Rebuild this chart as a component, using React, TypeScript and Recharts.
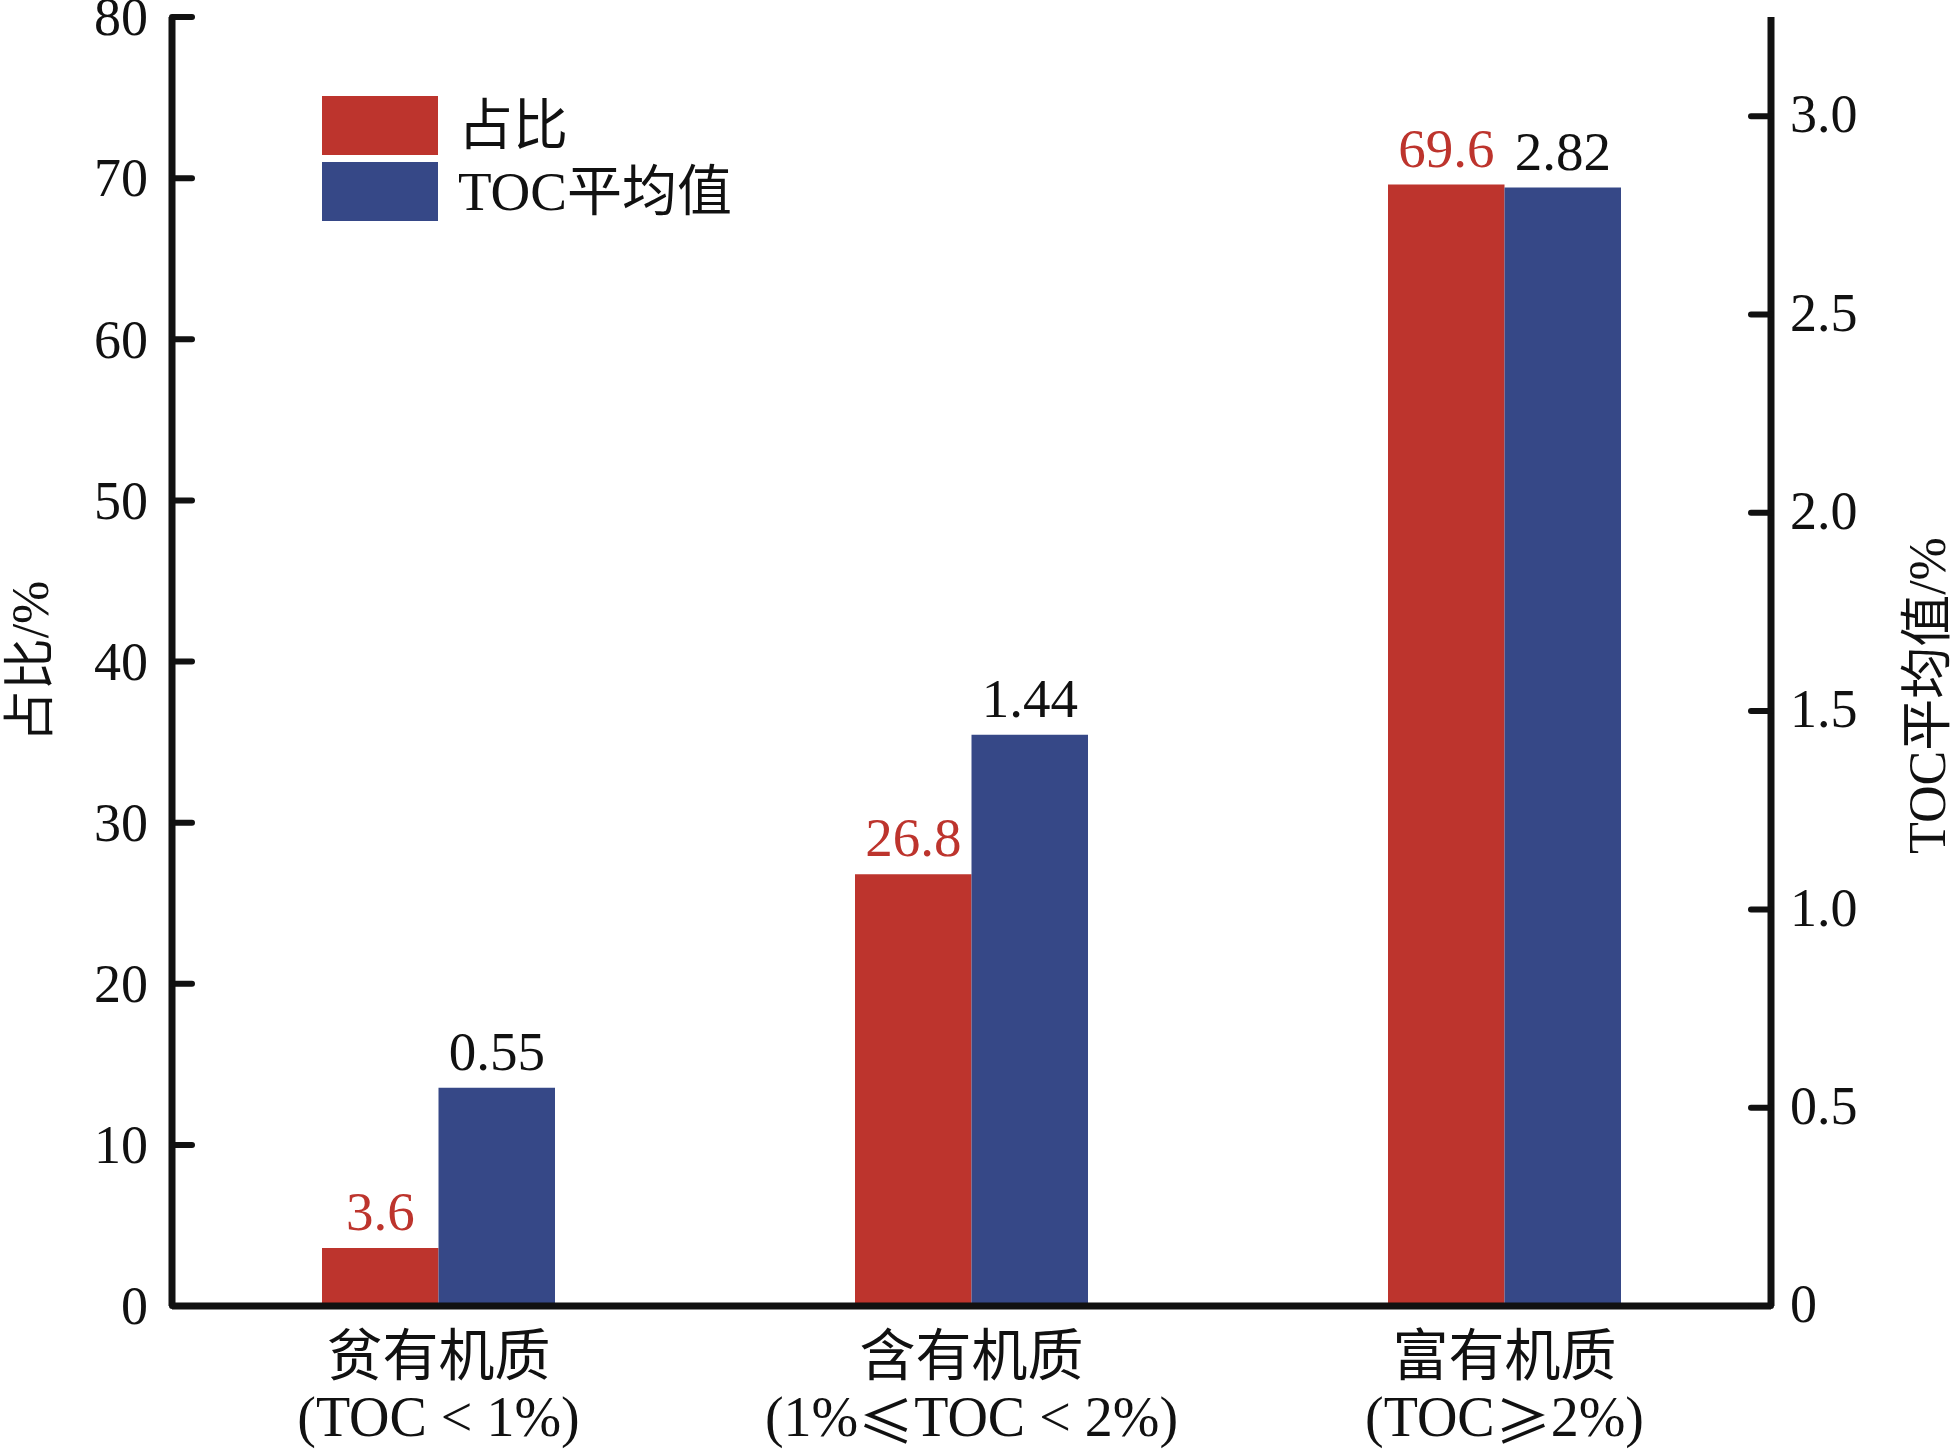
import { Bar, BarChart, LabelList, Legend, XAxis, YAxis } from "recharts";

const categories = ["贫有机质", "含有机质", "富有机质"];
const categoryRanges = [
  ["(TOC < 1%)"],
  ["(1%", "≤", "TOC < 2%)"],
  ["(TOC", "≥", "2%)"],
];
const shareValues = [3.6, 26.8, 69.6];
const tocValues = [0.55, 1.44, 2.82];
const leftTicks = [0, 10, 20, 30, 40, 50, 60, 70, 80];
const rightTicks = [0, 0.5, 1.0, 1.5, 2.0, 2.5, 3.0];
const legendOrder = ["占比", "TOC平均值"];

const data = categories.map((name, i) => ({
  name,
  share: shareValues[i],
  toc: tocValues[i],
}));

const FONT = "'Liberation Serif', 'Noto Sans CJK SC', serif";
const CJK = "'Noto Sans CJK SC', 'Liberation Serif', serif";
const RED = "#bd342d";
const BLUE = "#364887";
const INK = "#111";

const LeftTick = ({ x, y, payload }) => {
  const ax = x + 24;
  return (
    <g>
      <line x1={ax} x2={ax + 20} y1={y} y2={y} stroke={INK} strokeWidth={6} strokeLinecap="round" />
      <text x={x} y={y} dy="0.34em" textAnchor="end" fontSize={54} fontFamily={FONT} fill={INK}>
        {payload.value}
      </text>
    </g>
  );
};

const RightTick = ({ x, y, payload }) => {
  const ax = x - 19;
  return (
    <g>
      <line x1={ax} x2={ax - 20} y1={y} y2={y} stroke={INK} strokeWidth={6} strokeLinecap="round" />
      <text x={x} y={y} dy="0.3em" textAnchor="start" fontSize={54} fontFamily={FONT} fill={INK}>
        {payload.value === 0 ? "0" : payload.value.toFixed(1)}
      </text>
    </g>
  );
};

// second line mixes serif text with full-width CJK ≤ / ≥
const CategoryTick = ({ x, y, payload, index }) => (
  <g>
    <text x={x} y={y + 50} dominantBaseline="central" textAnchor="middle" fontSize={56} fontFamily={FONT} fill={INK}>
      {payload.value}
    </text>
    <text x={x} y={y + 111} dominantBaseline="central" textAnchor="middle" fontSize={56} fontFamily={FONT} fill={INK}>
      {categoryRanges[index].map((part, k) =>
        part === "≤" || part === "≥" ? (
          <tspan key={k} fontFamily={CJK}>{part}</tspan>
        ) : (
          <tspan key={k}>{part}</tspan>
        )
      )}
    </text>
  </g>
);

const AxisTitle = ({ viewBox, value, side }) => {
  const { x, y, width, height } = viewBox;
  const cx = side === "left" ? x + 30 : x + width - 29;
  const cy = y + height / 2 + (side === "left" ? 0 : 34);
  return (
    <text
      x={cx}
      y={cy}
      transform={`rotate(-90 ${cx} ${cy})`}
      textAnchor="middle"
      dominantBaseline="central"
      fontSize={52}
      fontFamily={FONT}
      fill={INK}
    >
      {value}
    </text>
  );
};

const LegendBox = ({ payload }) => {
  const items = [...(payload || [])].sort(
    (a, b) => legendOrder.indexOf(a.value) - legendOrder.indexOf(b.value)
  );
  return (
    <div style={{ fontFamily: FONT, fontSize: 55, color: INK }}>
      {items.map((entry) => (
        <div key={entry.value} style={{ display: "flex", alignItems: "center", height: 59, marginBottom: 7 }}>
          <div style={{ width: 116, height: 59, background: entry.color }} />
          <span style={{ marginLeft: 20, lineHeight: 1 }}>{entry.value}</span>
        </div>
      ))}
    </div>
  );
};

export default function App() {
  return (
    <div style={{ position: "absolute", left: 0, top: 0, width: 1956, height: 1453, background: "#fff" }}>
      <BarChart
        width={1956}
        height={1453}
        data={data}
        margin={{ top: 17, right: 0, bottom: 0, left: 0 }}
        barGap={0}
      >
        <XAxis
          dataKey="name"
          height={147}
          axisLine={{ stroke: INK, strokeWidth: 7 }}
          tickLine={false}
          tickSize={0}
          tickMargin={0}
          interval={0}
          tick={CategoryTick}
        />
        <YAxis
          yAxisId="left"
          orientation="left"
          width={172}
          domain={[0, 80]}
          ticks={leftTicks}
          interval={0}
          axisLine={{ stroke: INK, strokeWidth: 7 }}
          tickLine={false}
          tickSize={0}
          tickMargin={24}
          tick={LeftTick}
          label={{ value: "占比/%", content: (p) => <AxisTitle {...p} value="占比/%" side="left" /> }}
        />
        <YAxis
          yAxisId="right"
          orientation="right"
          width={185}
          domain={[0, 3.25]}
          ticks={rightTicks}
          interval={0}
          axisLine={{ stroke: INK, strokeWidth: 7 }}
          tickLine={false}
          tickSize={0}
          tickMargin={19}
          tick={RightTick}
          label={{ value: "TOC平均值/%", content: (p) => <AxisTitle {...p} value="TOC平均值/%" side="right" /> }}
        />
        <Legend
          layout="horizontal"
          verticalAlign="middle"
          align="center"
          content={LegendBox}
          wrapperStyle={{ left: 322, top: 96, width: "auto" }}
        />
        <Bar yAxisId="left" dataKey="share" name="占比" fill={RED} barSize={116.5} isAnimationActive={false}>
          <LabelList dataKey="share" position="top" offset={18} fill={RED} fontSize={55} fontFamily={FONT} />
        </Bar>
        <Bar yAxisId="right" dataKey="toc" name="TOC平均值" fill={BLUE} barSize={116.5} isAnimationActive={false}>
          <LabelList dataKey="toc" position="top" offset={18} fill={INK} fontSize={55} fontFamily={FONT} />
        </Bar>
      </BarChart>
    </div>
  );
}
